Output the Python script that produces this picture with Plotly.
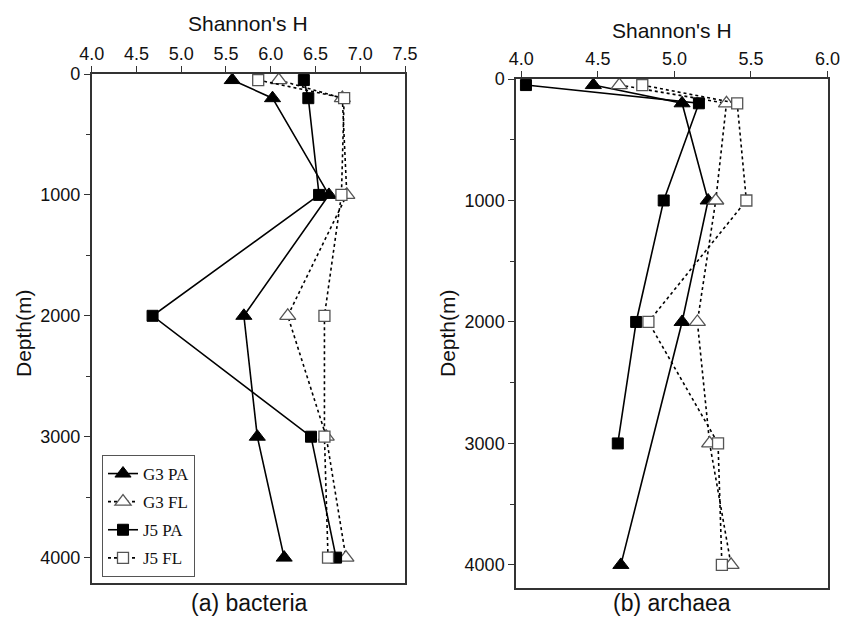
import plotly.graph_objects as go

# Sampling depths (m)
depth = [50, 200, 1000, 2000, 3000, 4000]

# Shannon's H, bacteria
bac_g3_pa = [5.57, 6.02, 6.65, 5.70, 5.85, 6.15]
bac_g3_fl = [6.09, 6.80, 6.85, 6.19, 6.62, 6.84]
bac_j5_pa = [6.37, 6.42, 6.54, 4.68, 6.45, 6.73]
bac_j5_fl = [5.86, 6.82, 6.79, 6.60, 6.60, 6.64]

# Shannon's H, archaea (None = no sample)
arc_g3_pa = [4.47, 5.05, 5.22, 5.05, None, 4.65]
arc_g3_fl = [4.64, 5.34, 5.27, 5.15, 5.23, 5.37]
arc_j5_pa = [4.03, 5.16, 4.93, 4.75, 4.63, None]
arc_j5_fl = [4.79, 5.41, 5.47, 4.83, 5.285, 5.31]

series_names = ["G3 PA", "G3 FL", "J5 PA", "J5 FL"]

W, H = 845, 629
SANS = "Liberation Sans, Arial, sans-serif"
SERIF = "Liberation Serif, Times New Roman, serif"


def style(name):
    filled = name.endswith("PA")
    sym = "triangle-up" if name.startswith("G3") else "square"
    size = 14 if sym == "triangle-up" else 11
    if filled:
        marker = dict(symbol=sym, size=size, color="black",
                      line=dict(color="black", width=1))
        line = dict(color="black", width=1.6, dash="solid")
    else:
        marker = dict(symbol=sym, size=size, color="white",
                      line=dict(color="#555555", width=1.3))
        line = dict(color="black", width=1.6, dash="dot")
    return marker, line


fig = go.Figure()

panels = [
    ("x", "y", [bac_g3_pa, bac_g3_fl, bac_j5_pa, bac_j5_fl], True),
    ("x2", "y2", [arc_g3_pa, arc_g3_fl, arc_j5_pa, arc_j5_fl], False),
]
for xa, ya, data, show in panels:
    for name, vals in zip(series_names, data):
        marker, line = style(name)
        fig.add_trace(go.Scatter(
            x=vals, y=depth, mode="lines+markers", name=name,
            legendgroup=name, xaxis=xa, yaxis=ya, marker=marker, line=line,
            connectgaps=True, showlegend=show, cliponaxis=False,
        ))


def px_x(p):
    return p / W


def px_y(p):
    return 1 - p / H


axis_common = dict(
    showline=True, linecolor="#333333", linewidth=1.5, mirror=True,
    ticks="outside", ticklen=6, tickwidth=1.2, tickcolor="#333333",
    showgrid=False, zeroline=False, automargin=False,
    tickfont=dict(family=SANS, size=18, color="#111111"),
)
y_minor = dict(dtick=500, ticks="outside", ticklen=4, tickcolor="#333333")

fig.update_layout(
    width=W, height=H,
    margin=dict(l=0, r=0, t=0, b=0),
    paper_bgcolor="white", plot_bgcolor="white",
    xaxis=dict(domain=[px_x(91.7), px_x(405)], range=[4.0, 7.5],
               side="top", anchor="y", dtick=0.5, tickformat=".1f",
               ticklabelstandoff=-1, **axis_common),
    yaxis=dict(domain=[px_y(583), px_y(74)], range=[4210, 0],
               anchor="x", dtick=1000, minor=y_minor, **axis_common),
    xaxis2=dict(domain=[px_x(516), px_x(827.5)], range=[3.965, 6.0],
                side="top", anchor="y2", tick0=4.0, dtick=0.5,
                tickformat=".1f", ticklabelstandoff=-1, **axis_common),
    yaxis2=dict(domain=[px_y(588), px_y(79)], range=[4190, 0],
                anchor="x2", dtick=1000, minor=y_minor, **axis_common),
    legend=dict(
        x=px_x(102), y=px_y(455), xanchor="left", yanchor="top",
        bgcolor="white", bordercolor="#555555", borderwidth=1,
        font=dict(family=SERIF, size=17, color="#111111"),
        tracegroupgap=3, itemwidth=30,
    ),
)

labels = [
    ("Shannon's H", 248, 24, 0, 21),
    ("Shannon's H", 672, 31, 0, 21),
    ("Depth(m)", 23, 333, -90, 21),
    ("Depth(m)", 447, 333, -90, 21),
    ("(a) bacteria", 249, 603, 0, 23),
    ("(b) archaea", 672, 603, 0, 23),
]
for text, cx, cy, ang, size in labels:
    fig.add_annotation(
        text=text, x=px_x(cx), y=px_y(cy), xref="paper", yref="paper",
        showarrow=False, textangle=ang, xanchor="center", yanchor="middle",
        font=dict(family=SANS, size=size, color="#111111"),
    )

fig.write_html("out.html")
